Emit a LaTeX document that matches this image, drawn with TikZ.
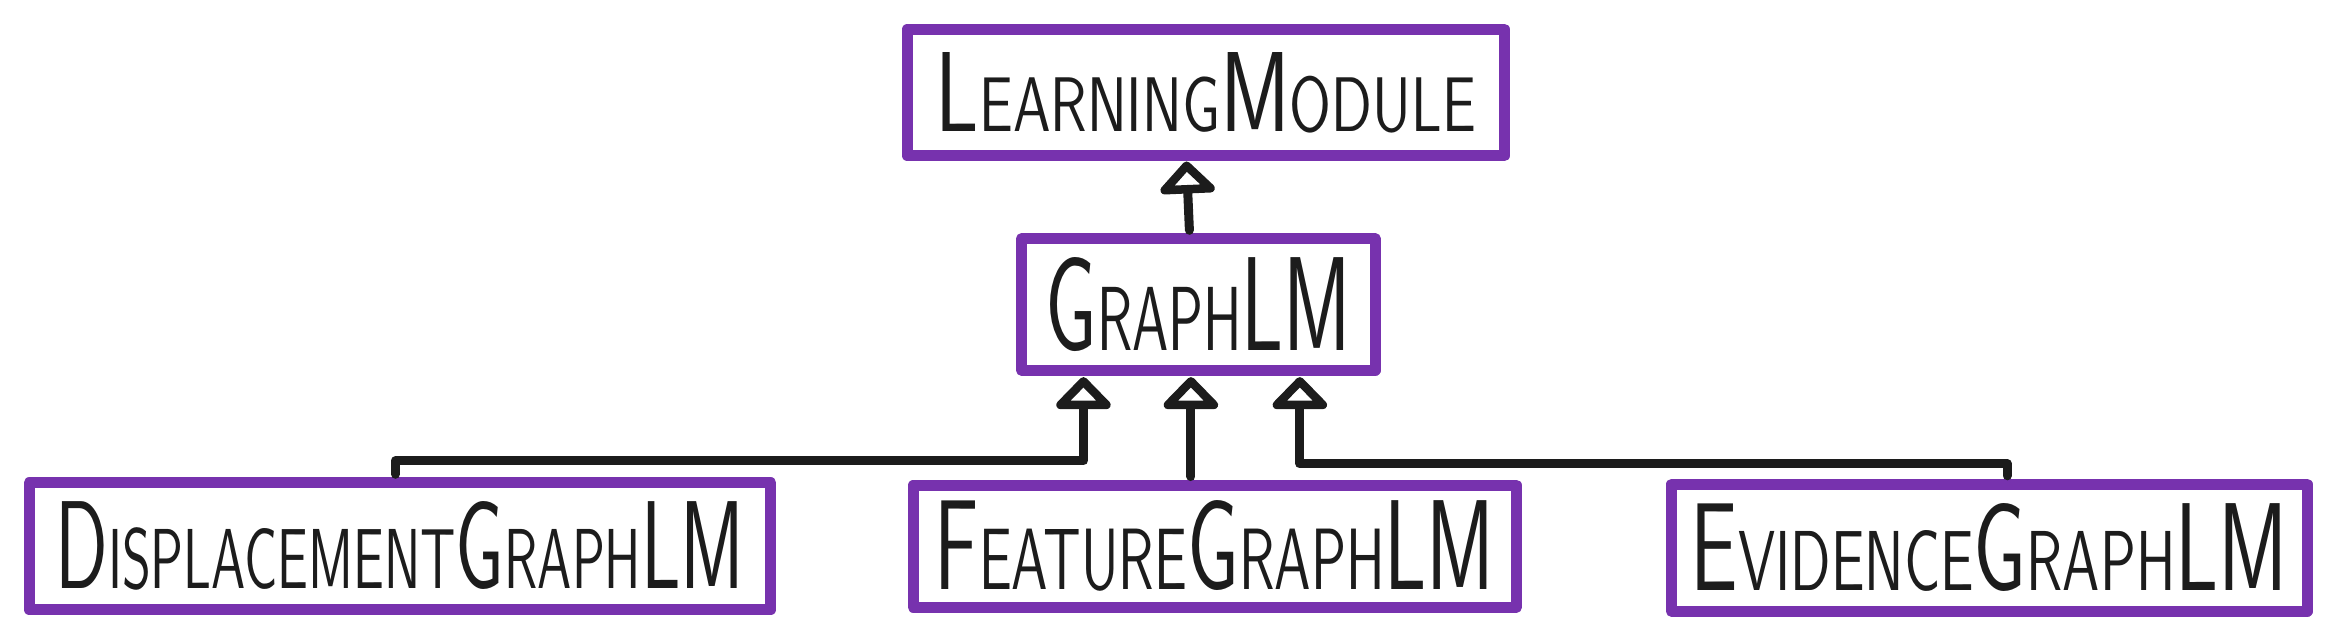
\documentclass[tikz,border=0pt]{standalone}
\usetikzlibrary{arrows.meta,calc}
\definecolor{boxpurple}{HTML}{7732AE}
\definecolor{ink}{HTML}{1C1C1C}
\newcommand\BC[1]{{\fontsize{20}{20}\selectfont #1}}
\tikzset{
  clsbox/.style={draw=boxpurple, line width=0.11cm, fill=white, rectangle, inner sep=0pt,
     text=ink, font=\fontsize{13.6}{14}\selectfont\sffamily, line join=round, line cap=round},
  inh/.style={draw=ink, line width=0.09cm, line join=round, line cap=round,
     -{Triangle[open, length=0.34cm, width=0.64cm, line join=round]}},
}
\begin{document}
\begin{tikzpicture}[x=0.014923cm, y=-0.014923cm]
\useasboundingbox (0,0) rectangle (1568,431.5);
% nodes
\node[clsbox, minimum width={400*0.014923cm}, minimum height={85*0.014923cm}] (lm) at (808,62)
  {\resizebox{5.40cm}{0.79cm}{\BC{L}EARNING\BC{M}ODULE}};
\node[clsbox, minimum width={237*0.014923cm}, minimum height={88*0.014923cm}] (g) at (803,204)
  {\resizebox{3.06cm}{0.93cm}{\BC{G}RAPH\BC{LM}}};
\node[clsbox, minimum width={497*0.014923cm}, minimum height={85*0.014923cm}] (d) at (268,366)
  {\resizebox{6.89cm}{0.87cm}{\BC{D}ISPLACEMENT\BC{G}RAPH\BC{LM}}};
\node[clsbox, minimum width={404*0.014923cm}, minimum height={82*0.014923cm}] (f) at (814,366)
  {\resizebox{5.60cm}{0.89cm}{\BC{F}EATURE\BC{G}RAPH\BC{LM}}};
\node[clsbox, minimum width={426*0.014923cm}, minimum height={85*0.014923cm}] (e) at (1333,367)
  {\resizebox{5.97cm}{0.87cm}{\BC{E}VIDENCE\BC{G}RAPH\BC{LM}}};
% connectors
\draw[inh] ($(g.north)+(-6,-2)$) -- ($(lm.south)+(-13,0)$);
\draw[inh] ($(d.north)+(-3,-2)$) |- ($(g.south)+(-77,57)$) -- ($(g.south)+(-77,1)$);
\draw[inh] ($(f.north)+(-16,-2)$) -- ($(g.south)+(-5,1)$);
\draw[inh] ($(e.north)+(12,-2)$) |- ($(g.south)+(68,59)$) -- ($(g.south)+(68,1)$);
\end{tikzpicture}
\end{document}
